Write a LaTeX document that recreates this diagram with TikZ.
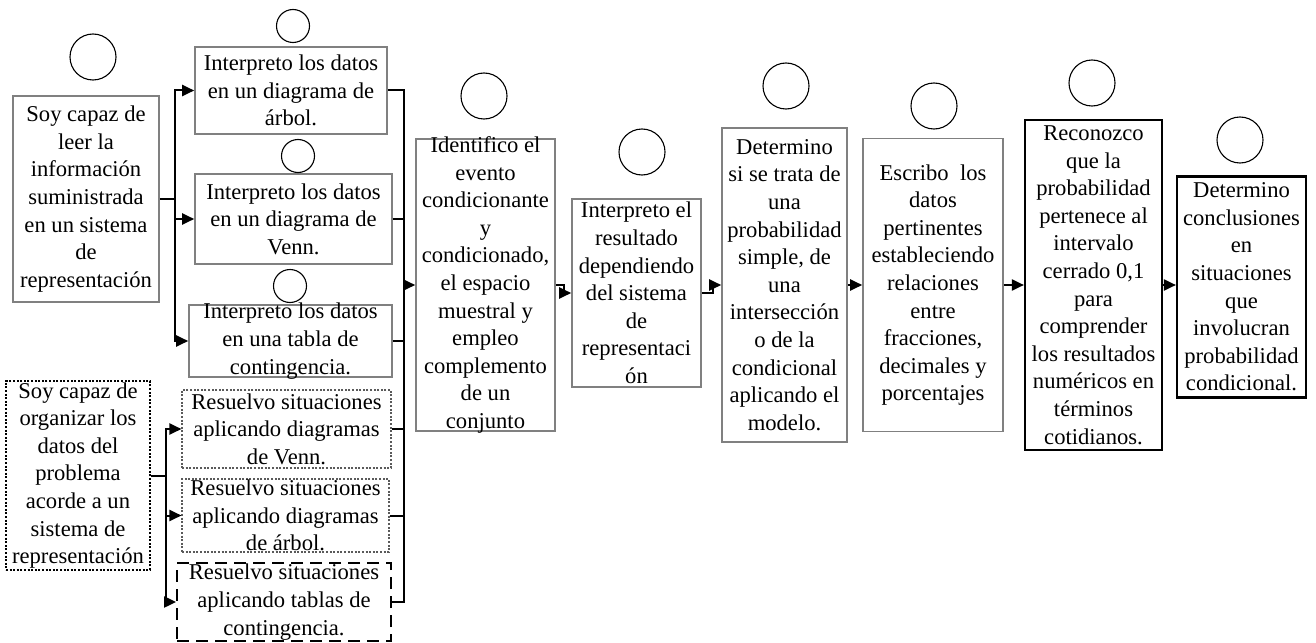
\documentclass[tikz,border=0pt]{standalone}
\usepackage{fontspec}
\setmainfont{Liberation Serif}
\usepackage{tikz}
\usetikzlibrary{arrows.meta, positioning, calc}
\definecolor{boxgray}{RGB}{128,128,128}
\newcommand{\celltext}[3]{\parbox[c][#2][c]{#1}{\centering #3}}

\begin{document}
\begin{tikzpicture}[x=0.5pt, y=-0.5pt, >=Stealth, every node/.style={font=\fontsize{11.3}{13.8}\selectfont}]
            % styles: boxes, empty rings and connectors
            \tikzset{
                grbox/.style={draw=boxgray, line width=0.8pt, inner sep=0pt},
                bkbox/.style={draw, line width=1.1pt, inner sep=0pt},
                dotbox/.style={draw, dash pattern=on 1pt off 0.8pt, line width=0.55pt, inner sep=0pt},
                dashbox/.style={draw, dash pattern=on 6pt off 3.5pt, line width=0.9pt, inner sep=0pt},
                bigring/.style={circle, draw, minimum size=23pt, inner sep=0pt, line width=0.55pt},
                smallring/.style={circle, draw, minimum size=16.5pt, inner sep=0pt, line width=0.55pt},
                link/.style={line width=1pt},
                flow/.style={line width=1pt, -{Triangle[length=6pt, width=5.5pt]}}
            }
            \useasboundingbox (0,0) rectangle (1316,642);
            % left column: reading and organising
            \node[grbox] (s1) at (86,199) {\celltext{73pt}{103pt}{Soy capaz de\\ leer la\\ información\\ suministrada\\ en un sistema\\ de\\ representación}};
            \node[grbox] (i1) at (291,90.5) {\celltext{96pt}{43.5pt}{Interpreto los datos\\ en un diagrama de\\ árbol.}};
            \node[grbox] (i2) at (293.5,219) {\celltext{98.5pt}{45pt}{Interpreto los datos\\ en un diagrama de\\ Venn.}};
            \node[grbox] (i3) at (290.5,341) {\celltext{101.5pt}{36pt}{Interpreto los datos\\ en una tabla de\\ contingencia.}};
            \node[dotbox] (s2) at (78,475.5) {\celltext{72pt}{94.5pt}{Soy capaz de\\ organizar los\\ datos del\\ problema\\ acorde a un\\ sistema de\\ representación}};
            \node[dotbox, draw=boxgray!70!black] (r1) at (286.5,429) {\celltext{104.5pt}{39pt}{Resuelvo situaciones\\ aplicando diagramas\\ de Venn.}};
            \node[dotbox, draw=boxgray!70!black] (r2) at (285.5,515.5) {\celltext{103.5pt}{36.5pt}{Resuelvo situaciones\\ aplicando diagramas\\ de árbol.}};
            \node[dashbox] (r3) at (284,602) {\celltext{107pt}{39pt}{Resuelvo situaciones\\ aplicando tablas de\\ contingencia.}};
            % main chain
            \node[grbox] (c) at (485.5,285) {\celltext{69.5pt}{146pt}{Identifico el\\ evento\\ condicionante\\ y\\ condicionado,\\ el espacio\\ muestral y\\ empleo\\ complemento\\ de un\\ conjunto}};
            \node[grbox] (d) at (636.5,293) {\celltext{64.5pt}{94pt}{Interpreto el\\ resultado\\ dependiendo\\ del sistema\\ de\\ representaci\\ ón}};
            \node[grbox] (e) at (784.5,285) {\celltext{62.5pt}{157pt}{Determino\\ si se trata de\\ una\\ probabilidad\\ simple, de\\ una\\ intersección\\ o de la\\ condicional\\ aplicando el\\ modelo.}};
            \node[grbox] (f) at (933,285) {\celltext{70pt}{146.5pt}{Escribo\ \ los\\ datos\\ pertinentes\\ estableciendo\\ relaciones\\ entre\\ fracciones,\\ decimales y\\ porcentajes}};
            \node[bkbox] (g) at (1093.5,285) {\celltext{68.5pt}{165pt}{Reconozco\\ que la\\ probabilidad\\ pertenece al\\ intervalo\\ cerrado 0,1\\ para\\ comprender\\ los resultados\\ numéricos en\\ términos\\ cotidianos.}};
            \node[bkbox] (h) at (1241.5,287) {\celltext{64.5pt}{110.5pt}{Determino\\ conclusiones\\ en\\ situaciones\\ que\\ involucran\\ probabilidad\\ condicional.}};
            % empty rings over the boxes
            \node[bigring] (rs1) at (93,57) {};
            \node[smallring] (ri1) at (293,26) {};
            \node[smallring] (ri2) at (298,156) {};
            \node[smallring] (ri3) at (290,286) {};
            \node[bigring] (rc) at (484,96) {};
            \node[bigring] (rd) at (642,152) {};
            \node[bigring] (re) at (786,86) {};
            \node[bigring] (rf) at (934,106) {};
            \node[bigring] (rg) at (1092,83) {};
            \node[bigring] (rh) at (1240,140) {};
            % bus points
            \coordinate (bus1) at (175,199);
            \coordinate (bus2) at (166,475.5);
            \coordinate (bus3) at (404,285);
            % fan out
            \draw[link] (s1.east) -- (bus1);
            \draw[flow] (bus1) |- (i1.west);
            \draw[flow] (bus1) |- (i2.west);
            \draw[flow] (bus1) |- (i3.west);
            \draw[link] (s2.east) -- (bus2);
            \draw[flow] (bus2) |- (r1.west);
            \draw[flow] (bus2) |- (r2.west);
            \draw[flow] (bus2) |- (r3.west);
            % gather into the chain
            \foreach \src in {i1,i2,i3,r1,r2,r3}
                \draw[link] (\src.east) -| (bus3);
            \draw[flow] (bus3) -- (c.west);
            \draw[flow] (c.east) -- ++(8,0) |- (d.west);
            \draw[flow] (d.east) -- ++(11,0) |- (e.west);
            \draw[flow] (e.east) -- (e.east -| f.west);
            \draw[flow] (f.east) -- (f.east -| g.west);
            \draw[flow] (g.east) -- (g.east -| h.west);
        \end{tikzpicture}
\end{document}
